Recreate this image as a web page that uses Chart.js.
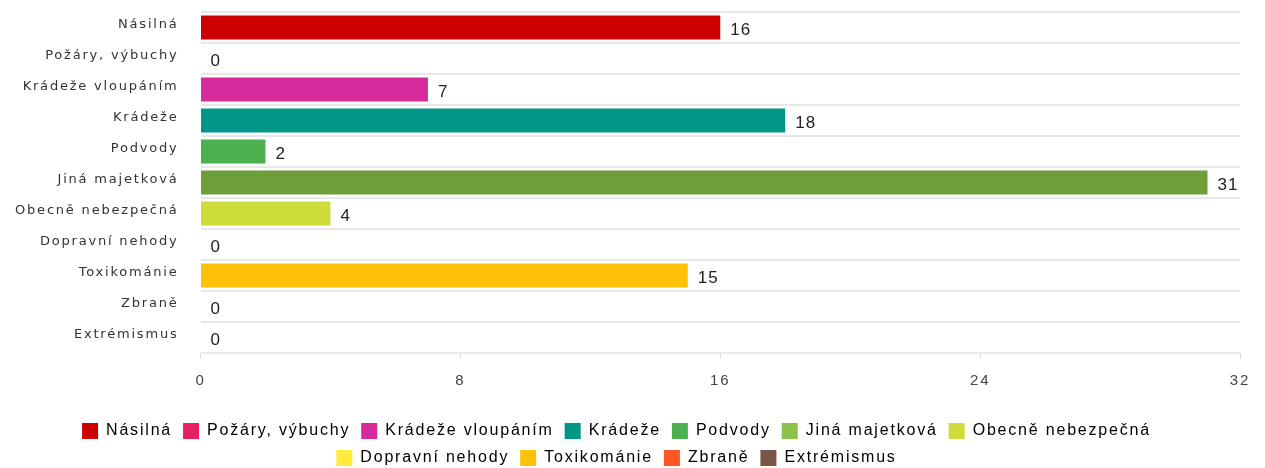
<!DOCTYPE html>
<html>
<head>
<meta charset="utf-8">
<script src="https://cdn.jsdelivr.net/npm/chart.js@4/dist/chart.umd.min.js"></script>
<style>
  html, body { margin: 0; padding: 0; background: #fff; }
  #wrap { width: 1265px; height: 468px; }
</style>
</head>
<body>
<div id="wrap"><canvas id="chart"></canvas></div>
<script>
// data
const categories = ['Násilná', 'Požáry, výbuchy', 'Krádeže vloupáním', 'Krádeže', 'Podvody', 'Jiná majetková',
  'Obecně nebezpečná', 'Dopravní nehody', 'Toxikománie', 'Zbraně', 'Extrémismus'];
const values = [16, 0, 7, 18, 2, 31, 4, 0, 15, 0, 0];
const barColors = ['#cc0000', '#e91e63', '#d6299c', '#009688', '#4caf50', '#6d9e3a',
  '#cddc39', '#ffeb3b', '#ffc107', '#ff5722', '#795548'];
const legendColors = ['#cc0000', '#e91e63', '#d6299c', '#009688', '#4caf50', '#8bc34a',
  '#cddc39', '#ffeb3b', '#ffc107', '#ff5722', '#795548'];
const xTicks = [0, 8, 16, 24, 32];

// spaced-out text like the original renderer
const SPACING = '1.8px';
const spacing = {
  id: 'spacing',
  beforeInit(chart) { chart.ctx.letterSpacing = SPACING; },
  beforeUpdate(chart) { chart.ctx.letterSpacing = SPACING; },
  beforeDraw(chart) { chart.ctx.letterSpacing = SPACING; }
};

// value next to the end of each bar
const valueLabels = {
  id: 'valueLabels',
  afterDatasetsDraw(chart) {
    const ctx = chart.ctx;
    const meta = chart.getDatasetMeta(0);
    ctx.save();
    ctx.letterSpacing = '1px';
    ctx.font = '17px "Liberation Sans", Arial, sans-serif';
    ctx.fillStyle = '#222';
    ctx.textAlign = 'left';
    ctx.textBaseline = 'middle';
    meta.data.forEach((bar, i) => {
      ctx.fillText(String(values[i]), bar.x + 10, bar.y + 3);
    });
    ctx.restore();
  }
};

new Chart(document.getElementById('chart'), {
  type: 'bar',
  data: {
    labels: categories,
    datasets: [{
      data: values,
      backgroundColor: barColors,
      barPercentage: 0.78,
      categoryPercentage: 1
    }]
  },
  options: {
    indexAxis: 'y',
    responsive: true,
    maintainAspectRatio: false,
    animation: false,
    layout: { padding: { top: 12, right: 25, left: -7, bottom: -8 } },
    scales: {
      x: {
        min: 0,
        max: 32,
        afterBuildTicks(axis) { axis.ticks = xTicks.map(v => ({ value: v })); },
        afterFit(axis) { axis.height += 9; },
        grid: { drawOnChartArea: false, drawTicks: true, tickLength: 6, color: '#dcdcdc' },
        border: { display: false },
        ticks: { color: '#444', font: { family: '"Liberation Sans", Arial, sans-serif', size: 15 }, padding: 13 }
      },
      y: {
        afterFit(axis) { axis.paddingTop = 0; axis.paddingBottom = 0; },
        grid: { color: '#e8e8e8', lineWidth: 2, drawTicks: false },
        border: { display: false },
        ticks: { color: '#333', font: { family: '"DejaVu Sans", sans-serif', size: 13 }, padding: 22, labelOffset: -3 }
      }
    },
    plugins: {
      tooltip: { enabled: false },
      legend: {
        position: 'bottom',
        labels: {
          boxWidth: 16,
          boxHeight: 16,
          padding: 11,
          color: '#333',
          font: { family: '"Liberation Sans", Arial, sans-serif', size: 16 },
          generateLabels() {
            return categories.map((c, i) => ({
              text: c, fillStyle: legendColors[i], strokeStyle: legendColors[i], lineWidth: 0, index: i
            }));
          }
        }
      }
    }
  },
  plugins: [spacing, valueLabels]
});
</script>
</body>
</html>
